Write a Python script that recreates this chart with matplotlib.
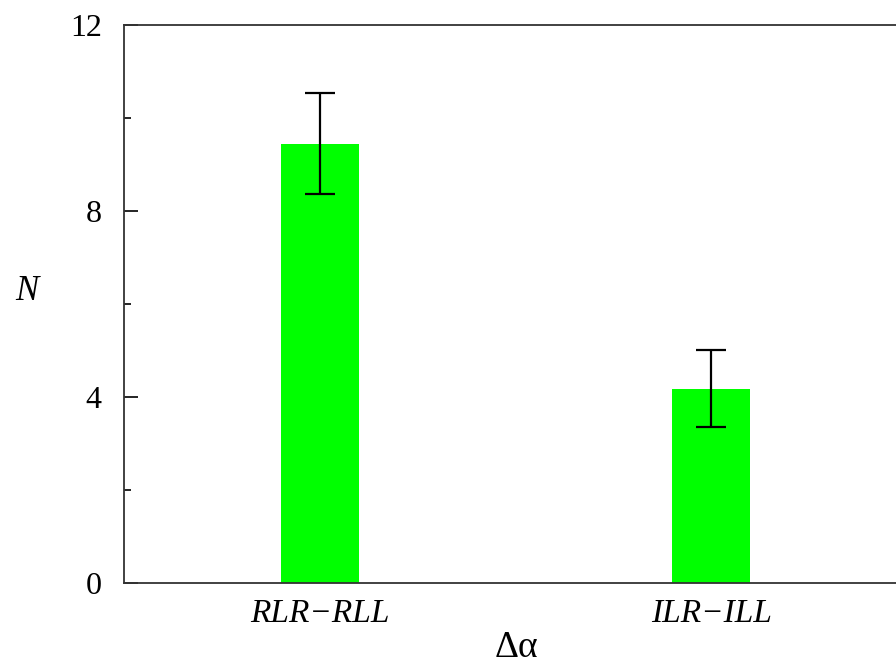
import matplotlib
matplotlib.use("Agg")
from matplotlib import pyplot as plt
import numpy as np

# data
categories = ["RLR\u2212RLL", "ILR\u2212ILL"]
counts = [9.45, 4.18]
errors = [1.08, 0.83]

plt.rcParams['font.family'] = 'serif'
plt.rcParams['font.serif'] = ['Liberation Serif']

fig = plt.figure(figsize=(8.96, 6.69), dpi=100)
ax = fig.add_axes([124/896, 1-583/669, 783/896, (583-25)/669])

xpos = np.arange(len(categories))
ax.bar(xpos, counts, width=0.2, color='#00ff00', zorder=1)
ax.errorbar(xpos, counts, yerr=errors, fmt='none', ecolor='k',
            elinewidth=1.6, capsize=11, capthick=1.6, zorder=2)

ax.set_xlim(-0.5, 1.5)
ax.set_ylim(0, 12)
ax.set_yticks([0, 4, 8, 12])
ax.set_yticks([2, 6, 10], minor=True)
ax.set_xticks(xpos)
ax.set_xticklabels(categories, fontsize=24, style='italic', family='Liberation Serif')
for lab in ax.get_yticklabels():
    lab.set_family('Liberation Serif')
ax.tick_params(axis='x', length=0, pad=11)
ax.tick_params(axis='y', which='major', direction='in', length=10, width=1.2,
               labelsize=23, pad=16)
ax.tick_params(axis='y', which='minor', direction='in', length=5, width=1.2)
for s in ax.spines.values():
    s.set_linewidth(1.3)
    s.set_color('#333333')

fig.text(27/896, 1-292/669, "N", fontsize=25, style='italic',
         family='Liberation Serif', ha='center', va='center')
fig.text(516/896, 1-648/669, "\u0394\u03b1", fontsize=27,
         family='Liberation Serif', ha='center', va='center')

fig.savefig("out.png", dpi=100)
